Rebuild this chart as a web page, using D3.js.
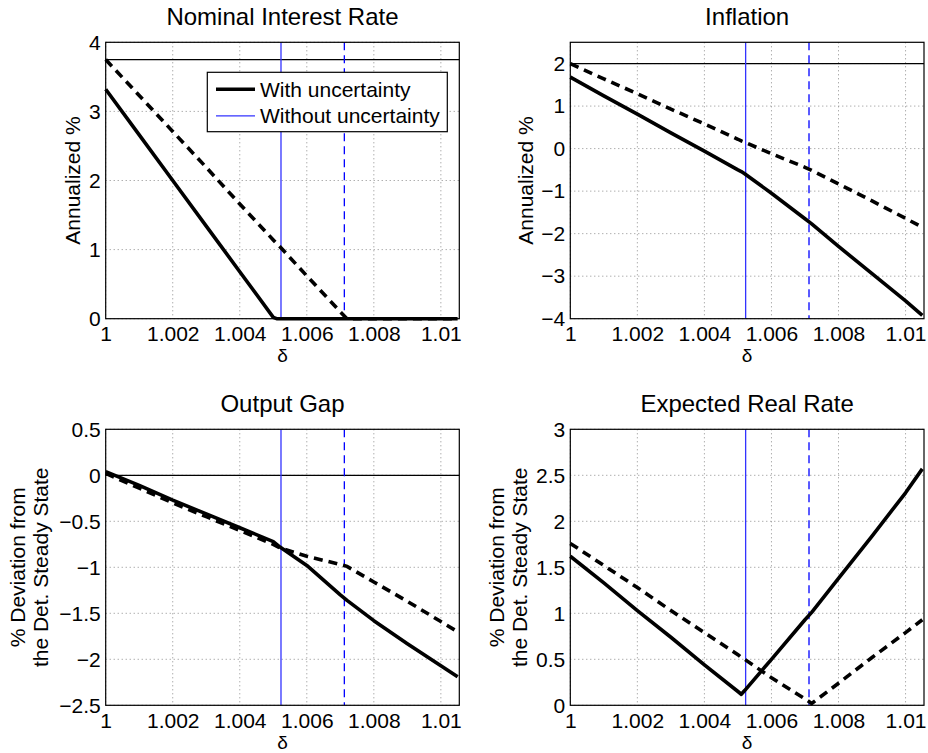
<!DOCTYPE html>
<html><head><meta charset="utf-8">
<script src="https://cdn.jsdelivr.net/npm/d3@7"></script>
<style>
body{margin:0;background:#fff}
text{font-family:"Liberation Sans",Arial,Helvetica,sans-serif;fill:#000}
</style>
</head><body>
<svg id="c" width="928" height="753"></svg>
<script>
// ---------------- data ----------------
const delta = [1, 1.001, 1.002, 1.003, 1.004, 1.005, 1.0051, 1.0052, 1.006, 1.007, 1.0072, 1.008, 1.009, 1.01, 1.0105];
const xTicks = [1, 1.002, 1.004, 1.006, 1.008, 1.01];
const xTickLabels = ["1", "1.002", "1.004", "1.006", "1.008", "1.01"];
const xDomain = [1, 1.01055];
const zlbWith = 1.00523;     // blue solid vertical
const zlbWithout = 1.00712;  // blue dashed vertical

const nominalWith    = [3.32, 2.66, 2.00, 1.34, 0.68, 0.02, 0, 0, 0, 0, 0, 0, 0, 0, 0];
const nominalWithout = [3.75, 3.23, 2.71, 2.19, 1.66, 1.14, 1.09, 1.04, 0.62, 0.10, 0, 0, 0, 0, 0];
const inflationWith    = [1.68, 1.24, 0.81, 0.37, -0.06, -0.50, -0.54, -0.59, -1.05, -1.65, -1.77, -2.30, -2.94, -3.58, -3.92];
const inflationWithout = [2.00, 1.64, 1.29, 0.93, 0.58, 0.22, 0.18, 0.15, -0.12, -0.44, -0.51, -0.83, -1.23, -1.64, -1.85];
const gapWith    = [0.04, -0.11, -0.27, -0.42, -0.57, -0.72, -0.75, -0.78, -0.98, -1.30, -1.36, -1.58, -1.83, -2.07, -2.19];
const gapWithout = [0.02, -0.14, -0.30, -0.45, -0.60, -0.75, -0.77, -0.79, -0.88, -0.97, -0.99, -1.16, -1.37, -1.59, -1.70];
const realWith    = [1.62, 1.33, 1.03, 0.74, 0.44, 0.15, 0.12, 0.16, 0.50, 0.93, 1.01, 1.38, 1.84, 2.31, 2.57];
const realWithout = [1.76, 1.52, 1.28, 1.03, 0.79, 0.55, 0.52, 0.50, 0.30, 0.07, 0.02, 0.24, 0.52, 0.79, 0.93];

const titles = ["Nominal Interest Rate", "Inflation", "Output Gap", "Expected Real Rate"];
const yLabels = [["Annualized %"], ["Annualized %"],
                 ["% Deviation from", "the Det. Steady State"], ["% Deviation from", "the Det. Steady State"]];
const yDomains = [[0, 4], [-4, 2.5], [-2.5, 0.5], [0, 3]];
const yTicks = [[0, 1, 2, 3, 4], [-4, -3, -2, -1, 0, 1, 2], [-2.5, -2, -1.5, -1, -0.5, 0, 0.5], [0, 0.5, 1, 1.5, 2, 2.5, 3]];
const yTickLabels = [["0", "1", "2", "3", "4"], ["−4", "−3", "−2", "−1", "0", "1", "2"],
                     ["−2.5", "−2", "−1.5", "−1", "−0.5", "0", "0.5"], ["0", "0.5", "1", "1.5", "2", "2.5", "3"]];
const refLines = [3.75, 2, 0, null];
const seriesWith = [nominalWith, inflationWith, gapWith, realWith];
const seriesWithout = [nominalWithout, inflationWithout, gapWithout, realWithout];
const legendLabels = ["With uncertainty", "Without uncertainty"];

// ---------------- layout ----------------
const boxes = [
  {l: 105.7, r: 459.3, t: 42.3, b: 318.7, ylab: [80]},
  {l: 570.3, r: 924, t: 42.3, b: 318.7, ylab: [532.7]},
  {l: 105.7, r: 459.3, t: 429.3, b: 705.3, ylab: [25, 48]},
  {l: 570.3, r: 924, t: 429.3, b: 705.3, ylab: [503.5, 527]}
];

const svg = d3.select("#c");

boxes.forEach((bx, i) => {
  const w = bx.r - bx.l, h = bx.b - bx.t;
  const x = d3.scaleLinear().domain(xDomain).range([0, w]);
  const y = d3.scaleLinear().domain(yDomains[i]).range([h, 0]);
  const g = svg.append("g").attr("transform", `translate(${bx.l},${bx.t})`);

  // grid
  const grid = g.append("g");
  xTicks.forEach(v => grid.append("line").attr("x1", x(v)).attr("x2", x(v)).attr("y1", 0).attr("y2", h)
    .attr("stroke", "#8c8c8c").attr("stroke-width", 1).attr("stroke-dasharray", "1,3"));
  yTicks[i].forEach(v => grid.append("line").attr("x1", 0).attr("x2", w).attr("y1", y(v)).attr("y2", y(v))
    .attr("stroke", "#8c8c8c").attr("stroke-width", 1).attr("stroke-dasharray", "1,3"));

  // reference horizontal line
  if (refLines[i] !== null) {
    g.append("line").attr("x1", 0).attr("x2", w).attr("y1", y(refLines[i])).attr("y2", y(refLines[i]))
      .attr("stroke", "#000").attr("stroke-width", 1.2);
  }
  // ZLB vertical lines
  g.append("line").attr("x1", x(zlbWith)).attr("x2", x(zlbWith)).attr("y1", 0).attr("y2", h)
    .attr("stroke", "#3333ff").attr("stroke-width", 1.3);
  g.append("line").attr("x1", x(zlbWithout)).attr("x2", x(zlbWithout)).attr("y1", 0).attr("y2", h)
    .attr("stroke", "#0000ff").attr("stroke-width", 1.3).attr("stroke-dasharray", "8,5");

  // data lines
  const line = d3.line().x((d, k) => x(delta[k])).y(d => y(d));
  g.append("path").datum(seriesWithout[i]).attr("d", line).attr("fill", "none")
    .attr("stroke", "#000").attr("stroke-width", 3.6).attr("stroke-dasharray", "9,6");
  g.append("path").datum(seriesWith[i]).attr("d", line).attr("fill", "none")
    .attr("stroke", "#000").attr("stroke-width", 3.6).attr("stroke-linejoin", "round");

  // box
  g.append("rect").attr("x", 0).attr("y", 0).attr("width", w).attr("height", h)
    .attr("fill", "none").attr("stroke", "#000").attr("stroke-width", 1.2);

  // axes
  const xa = g.append("g").attr("transform", `translate(0,${h})`)
    .call(d3.axisBottom(x).tickValues(xTicks).tickFormat((d, k) => xTickLabels[k]).tickSize(0).tickPadding(7.5));
  const ya = g.append("g")
    .call(d3.axisLeft(y).tickValues(yTicks[i]).tickFormat((d, k) => yTickLabels[i][k]).tickSize(0).tickPadding(5));
  [xa, ya].forEach(a => {
    a.select(".domain").remove();
    a.selectAll("text").attr("font-size", 21).attr("fill", "#000")
      .attr("font-family", '"Liberation Sans",Arial,Helvetica,sans-serif');
  });

  // title
  svg.append("text").attr("x", bx.l + w / 2).attr("y", bx.t - 17.5).attr("text-anchor", "middle")
    .attr("font-size", 24).text(titles[i]);
  // x label
  svg.append("text").attr("x", bx.l + w / 2).attr("y", bx.b + 43.3).attr("text-anchor", "middle")
    .attr("font-size", 19).text("δ");
  // y label
  yLabels[i].forEach((lab, k) => {
    svg.append("text").attr("transform", `translate(${bx.ylab[k]},${bx.t + h / 2}) rotate(-90)`)
      .attr("text-anchor", "middle").attr("font-size", 21).text(lab);
  });

  // legend (first panel)
  if (i === 0) {
    const lg = svg.append("g").attr("transform", "translate(207.3,72.3)");
    lg.append("rect").attr("x", 0).attr("y", 0).attr("width", 240).attr("height", 59.4)
      .attr("fill", "#fff").attr("stroke", "#000").attr("stroke-width", 1.2);
    lg.append("line").attr("x1", 8.7).attr("x2", 47.7).attr("y1", 17).attr("y2", 17)
      .attr("stroke", "#000").attr("stroke-width", 3.6);
    lg.append("line").attr("x1", 8.7).attr("x2", 47.7).attr("y1", 43.5).attr("y2", 43.5)
      .attr("stroke", "#3333ff").attr("stroke-width", 1.3);
    lg.append("text").attr("x", 52.7).attr("y", 24.5).attr("font-size", 21).text(legendLabels[0]);
    lg.append("text").attr("x", 52.7).attr("y", 51).attr("font-size", 21).text(legendLabels[1]);
  }
});
</script>
</body></html>
